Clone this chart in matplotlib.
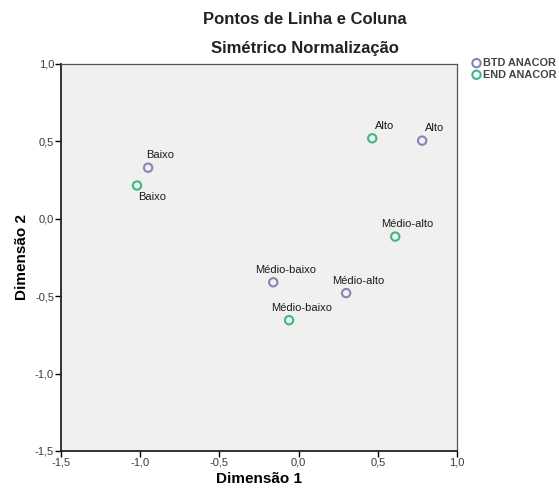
import numpy as np
import matplotlib
matplotlib.use('Agg')
import matplotlib.pyplot as plt
from matplotlib.ticker import FuncFormatter

plt.rcParams['font.family'] = ['Liberation Sans', 'DejaVu Sans']

# row points (BTD) and column points (END)
btd_labels = ['Baixo', 'Médio-baixo', 'Médio-alto', 'Alto']
btd_x = [-0.95, -0.16, 0.30, 0.78]
btd_y = [0.33, -0.41, -0.48, 0.505]

end_labels = ['Baixo', 'Médio-baixo', 'Médio-alto', 'Alto']
end_x = [-1.02, -0.06, 0.61, 0.465]
end_y = [0.215, -0.655, -0.115, 0.52]

series_names = ['BTD ANACOR', 'END ANACOR']
ticks = [-1.5, -1.0, -0.5, 0.0, 0.5, 1.0]

W, H = 559, 504
fig = plt.figure(figsize=(W / 100, H / 100), dpi=100)
ax = fig.add_axes([61 / W, 1 - 451 / H, (457 - 61) / W, (451 - 64) / H])
ax.set_facecolor('#f0f0ee')

c_btd = '#8585b5'
c_end = '#3fb58a'
ax.scatter(btd_x, btd_y, s=36, facecolors='none', edgecolors=c_btd,
           linewidths=1.5, label=series_names[0], zorder=3)
ax.scatter(end_x, end_y, s=36, facecolors='none', edgecolors=c_end,
           linewidths=1.5, label=series_names[1], zorder=3)

for lab, x, y in zip(btd_labels, btd_x, btd_y):
    ax.annotate(lab, (x, y), xytext=(9, 9), textcoords='offset points',
                ha='center', va='center', fontsize=8, color='#1a1a1a')
for lab, x, y in zip(end_labels, end_x, end_y):
    off = (11, -8) if lab == 'Baixo' else (9, 9)
    ax.annotate(lab, (x, y), xytext=off, textcoords='offset points',
                ha='center', va='center', fontsize=8, color='#1a1a1a')

ax.set_xlim(-1.5, 1.0)
ax.set_ylim(-1.5, 1.0)
ax.set_xticks(ticks)
ax.set_yticks(ticks)
fmt = FuncFormatter(lambda v, p: ('%.1f' % v).replace('.', ','))
ax.xaxis.set_major_formatter(fmt)
ax.yaxis.set_major_formatter(fmt)
ax.tick_params(direction='out', length=4, width=1, labelsize=8,
               labelcolor='#3a3a3a', pad=1)

for side in ['left', 'bottom']:
    ax.spines[side].set_linewidth(1.3)
    ax.spines[side].set_color('#222222')
for side in ['right', 'top']:
    ax.spines[side].set_linewidth(0.9)
    ax.spines[side].set_color('#555555')

ax.set_xlabel('Dimensão 1', fontsize=11, fontweight='bold', labelpad=3)
ax.set_ylabel('Dimensão 2', fontsize=11, fontweight='bold', labelpad=4)

fig.text(305 / W, 1 - 19 / H, 'Pontos de Linha e Coluna', ha='center',
         va='center', fontsize=12, fontweight='bold', color='#222222')
fig.text(305 / W, 1 - 48 / H, 'Simétrico Normalização', ha='center',
         va='center', fontsize=12, fontweight='bold', color='#222222')

leg = fig.legend(loc='upper left', bbox_to_anchor=(470 / W, 1 - 58 / H),
                 frameon=False, fontsize=7.8, handletextpad=0.0,
                 borderaxespad=0, labelspacing=0.15, handlelength=1.2,
                 borderpad=0)
for t in leg.get_texts():
    t.set_fontweight('bold')
    t.set_color('#444444')

fig.savefig('out.png', dpi=100)
